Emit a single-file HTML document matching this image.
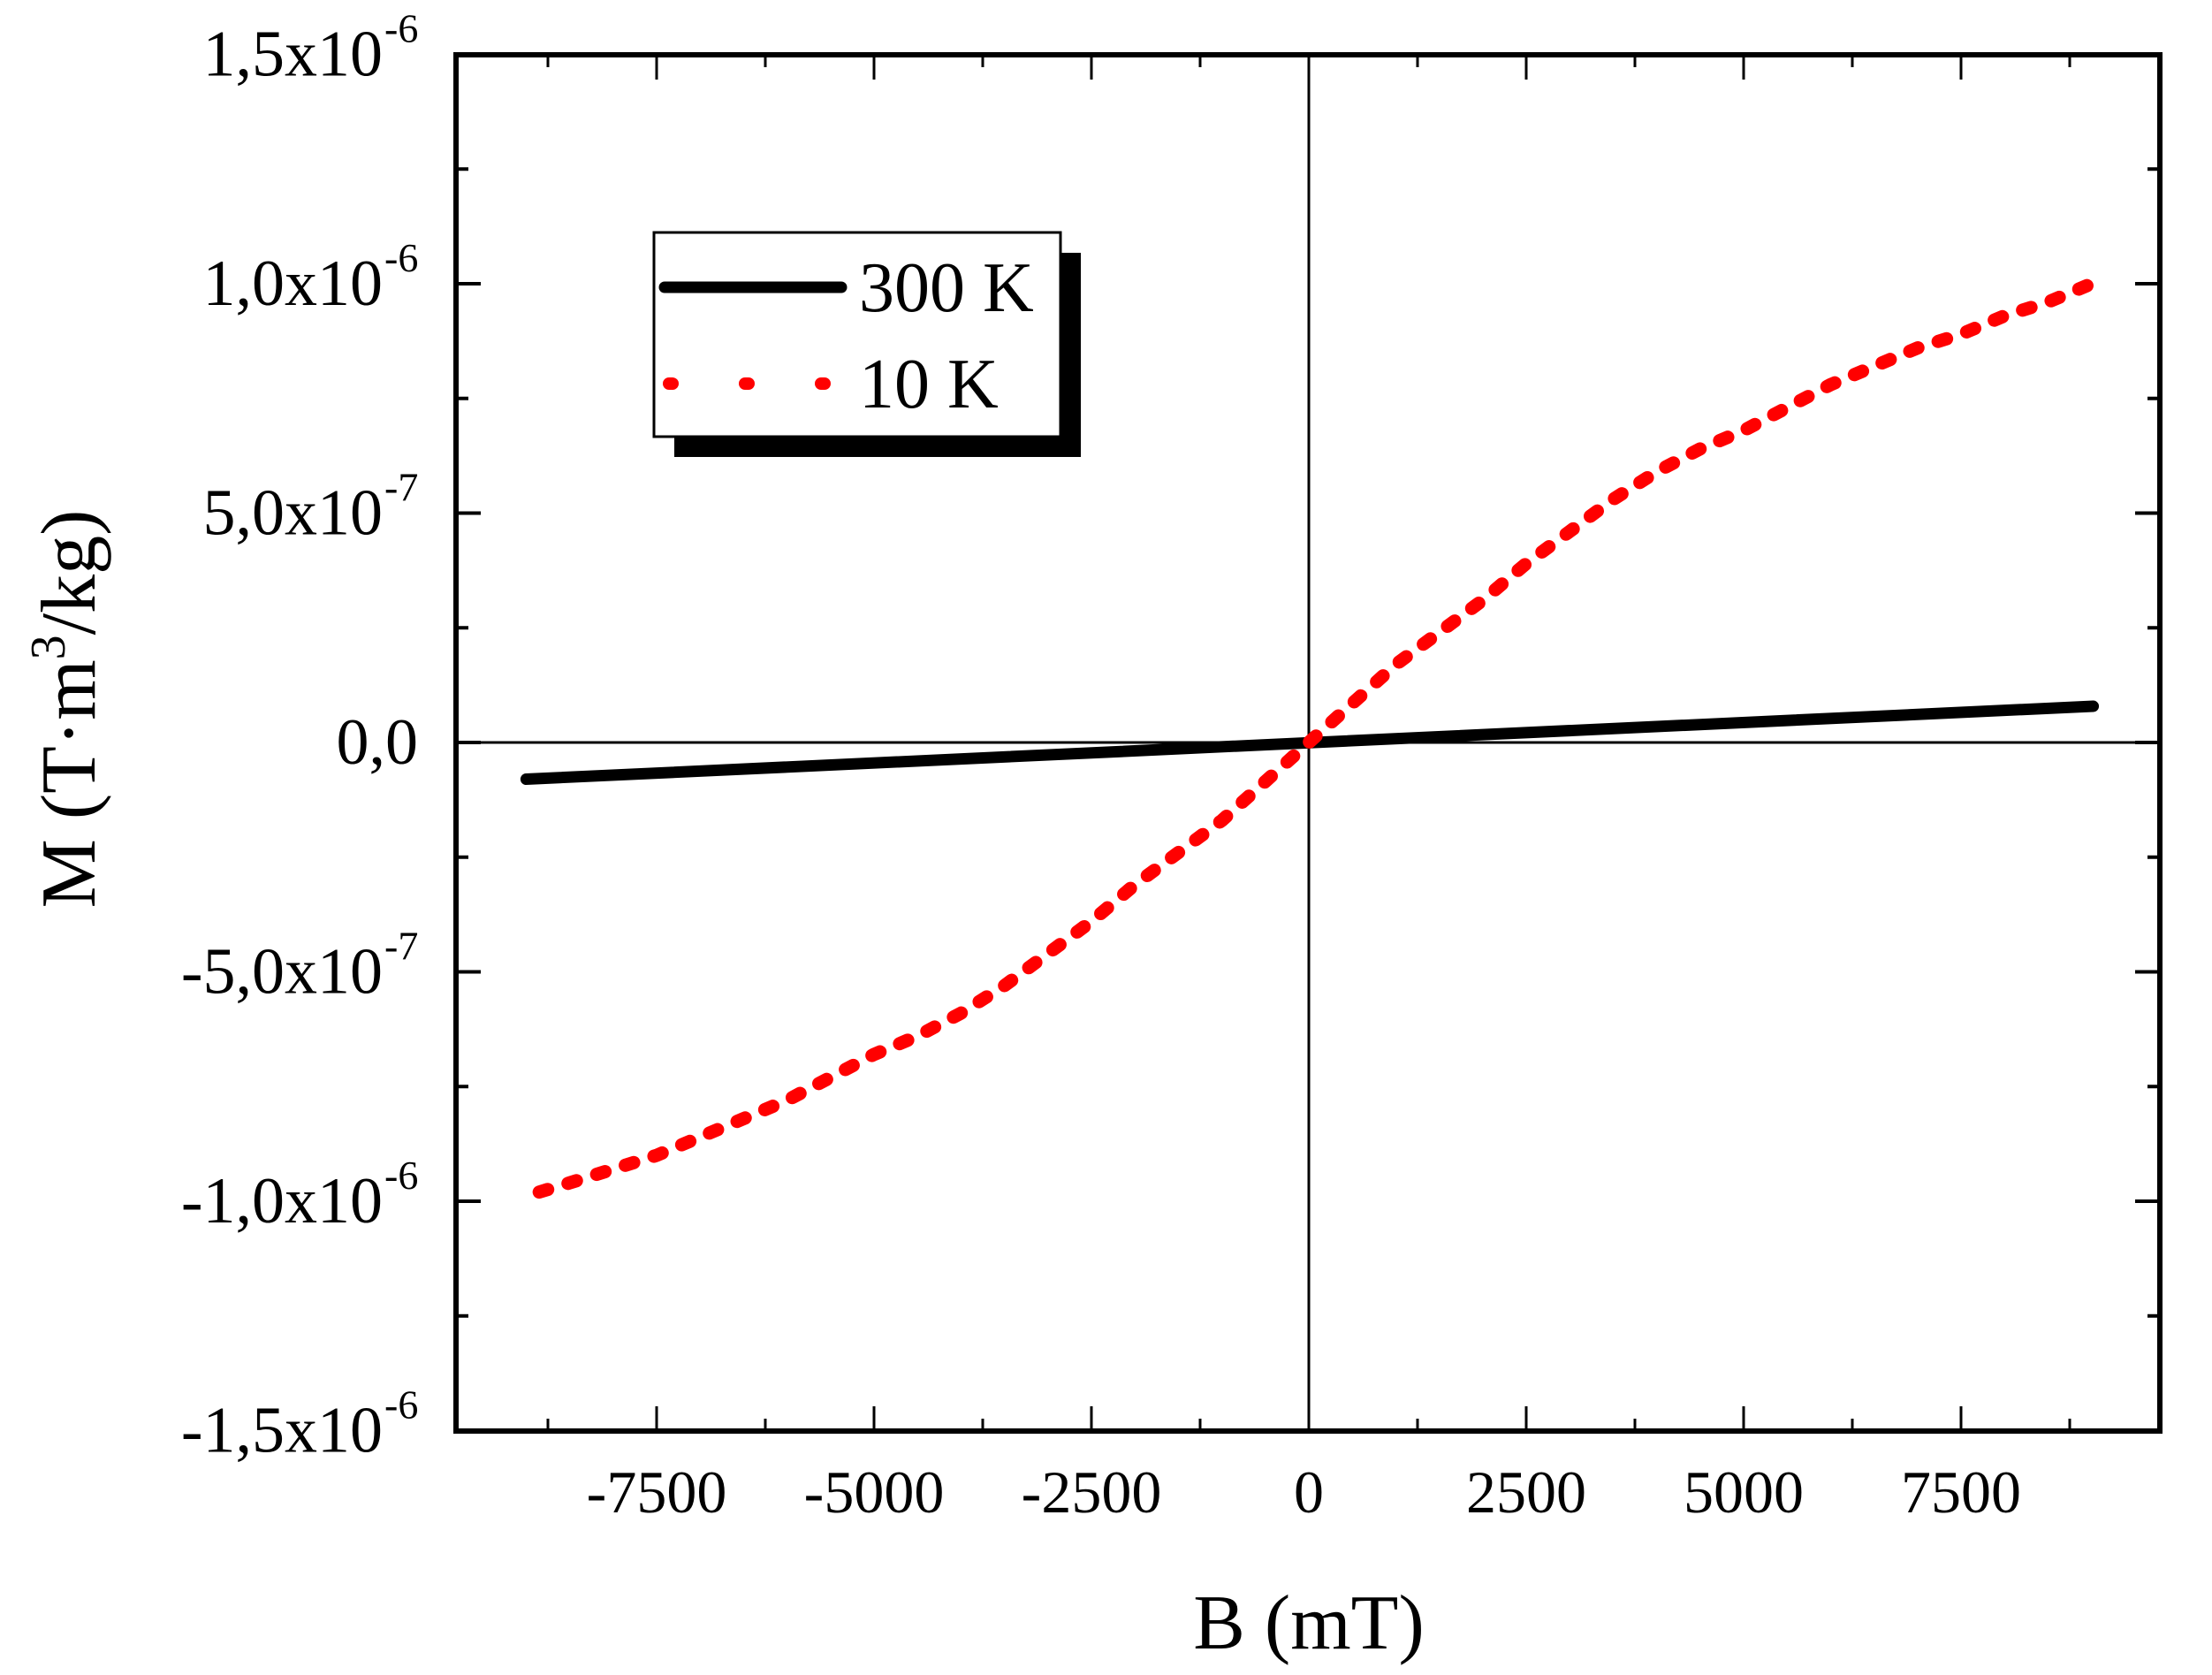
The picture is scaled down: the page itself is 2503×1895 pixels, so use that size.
<!DOCTYPE html>
<html><head><meta charset="utf-8"><style>
html,body{margin:0;padding:0;background:#fff;}
svg{display:block;}
text{font-family:"Liberation Serif",serif;fill:#000;}
</style></head><body>
<svg id="chart" width="2503" height="1895" viewBox="0 0 2503 1895" xmlns="http://www.w3.org/2000/svg">
<g id="axes"></g>
<g id="series"></g>
<g id="legend">
  <rect x="763" y="286" width="460" height="231" fill="#000"/>
  <rect x="740" y="263" width="460" height="231" fill="#fff" stroke="#000" stroke-width="3"/>
  <line x1="752" y1="325" x2="952" y2="325" stroke="#000" stroke-width="13" stroke-linecap="round"/>
  <text x="972" y="352" font-size="80">300 K</text>
  <line x1="757" y1="434" x2="940" y2="434" stroke="#f00" stroke-width="14" stroke-linecap="round" stroke-dasharray="4 82"/>
  <text x="972" y="461" font-size="80">10 K</text>
</g>
<text x="1481" y="1865" font-size="88" text-anchor="middle">B (mT)</text>
<text transform="translate(107,802) rotate(-90)" font-size="88" text-anchor="middle">M (T·m<tspan font-size="56" dy="-34">3</tspan><tspan dy="34">/kg)</tspan></text>
</svg>
<script>
const xTicks = [-7500,-5000,-2500,0,2500,5000,7500];
const xTickLabels = ["-7500","-5000","-2500","0","2500","5000","7500"];
const yTicks = [1.5e-6,1.0e-6,5e-7,0,-5e-7,-1.0e-6,-1.5e-6];
const yTickMant = ["1,5x10","1,0x10","5,0x10","0,0","-5,0x10","-1,0x10","-1,5x10"];
const yTickExp = ["-6","-6","-7","","-7","-6","-6"];
const b300 = [-9000, 9020];
const m300 = [-8.0e-8, 7.9e-8];
const b10 = [-8850,-8500,-8000,-7500,-7000,-6500,-6000,-5500,-5000,-4500,-4000,-3500,-3000,-2500,-2000,-1500,-1000,-500,0,500,1000,1500,2000,2500,3000,3500,4000,4500,5000,5500,6000,6500,7000,7500,8000,8500,9000];
const m10 = [-0.98,-0.96,-0.93,-0.90,-0.86,-0.82,-0.78,-0.73,-0.68,-0.64,-0.59,-0.53,-0.46,-0.39,-0.31,-0.24,-0.17,-0.085,0,0.085,0.17,0.24,0.31,0.39,0.46,0.53,0.59,0.64,0.68,0.73,0.78,0.82,0.86,0.89,0.93,0.96,1.0].map(v=>v*1e-6);

const L=516,R=2444,T=62,Bt=1619;
const X0=1481, XS=0.0984;
const xs = b => X0 + b*XS;
const ys = m => 840 - m*519e6;
const NS="http://www.w3.org/2000/svg";
const ax=document.getElementById('axes'), se=document.getElementById('series');
function mk(tag,attrs,parent){const e=document.createElementNS(NS,tag);for(const k in attrs)e.setAttribute(k,attrs[k]);parent.appendChild(e);return e;}

let fr=mk('rect',{x:L,y:T,width:R-L,height:Bt-T,fill:'none',stroke:'#000','stroke-width':6},ax);


let zh=mk('line',{x1:L,y1:ys(0),x2:R,y2:ys(0),stroke:'#000','stroke-width':3},ax);


let zv=mk('line',{x1:xs(0),y1:T,x2:xs(0),y2:Bt,stroke:'#000','stroke-width':3},ax);



for(let v=-8750; v<=8750; v+=1250){
  const major = (v % 2500 === 0);
  const len = major?28:14, x=xs(v);
  let t1=mk('line',{x1:x,y1:Bt,x2:x,y2:Bt-len,stroke:'#000','stroke-width':3},ax);
  
  
  let t2=mk('line',{x1:x,y1:T,x2:x,y2:T+len,stroke:'#000','stroke-width':3},ax);
  
  
}
xTicks.forEach((v,i)=>{
  let t=mk('text',{x:xs(v),y:1711,'font-size':68,'text-anchor':'middle'},ax);
  t.textContent=xTickLabels[i];
  
  
});
for(let k=-6;k<=6;k++){
  const v=k*2.5e-7, major=(k%2===0), len=major?28:14, y=ys(v);
  let t1=mk('line',{x1:L,y1:y,x2:L+len,y2:y,stroke:'#000','stroke-width':4},ax);
  
  
  let t2=mk('line',{x1:R,y1:y,x2:R-len,y2:y,stroke:'#000','stroke-width':4},ax);
  
  
}
yTicks.forEach((v,i)=>{
  const y=ys(v)+24;
  let t;
  if(yTickExp[i]){
    t=mk('text',{x:433,y:y,'font-size':74,'text-anchor':'end'},ax);
    t.textContent=yTickMant[i];
    let s=mk('text',{x:435,y:y-38,'font-size':46},ax);
    s.textContent=yTickExp[i];
    
    
  } else {
    t=mk('text',{x:473,y:y,'font-size':74,'text-anchor':'end'},ax);
    t.textContent=yTickMant[i];
  }
  
  
});

const p300=b300.map((b,i)=>xs(b)+','+ys(m300[i])).join(' ');
let l1=mk('polyline',{points:p300,fill:'none',stroke:'#000','stroke-width':13,'stroke-linecap':'round'},se);


const p10=b10.map((b,i)=>xs(b)+','+ys(m10[i])).join(' ');
let l2=mk('polyline',{points:p10,fill:'none',stroke:'#f00','stroke-width':15,'stroke-linecap':'round','stroke-linejoin':'round','stroke-dasharray':'10 24'},se);


</script>
</body></html>
